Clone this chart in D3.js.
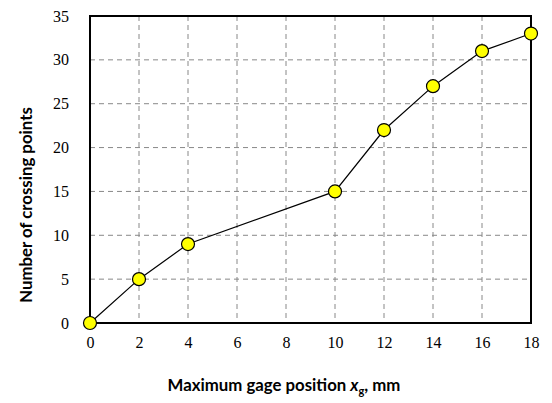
<!DOCTYPE html>
<html>
<head>
<meta charset="utf-8">
<script src="https://cdn.jsdelivr.net/npm/d3@7.9.0/dist/d3.min.js"></script>
<style>
  body { margin: 0; background: #fff; }
  .title { font-family: Lato, "Open Sans", sans-serif; font-weight: bold; font-size: 16.8px; fill: #000; }
</style>
</head>
<body>
<svg width="552" height="403"></svg>
<script>
const gagePos = [0, 2, 4, 10, 12, 14, 16, 18];
const crossings = [0, 5, 9, 15, 22, 27, 31, 33];
const xTicks = [0, 2, 4, 6, 8, 10, 12, 14, 16, 18];
const yTicks = [0, 5, 10, 15, 20, 25, 30, 35];

const svg = d3.select('svg');
const pLeft = 90, pRight = 531, pTop = 16, pBottom = 323;
const serif = "Times New Roman, Liberation Serif, Tinos, DejaVu Serif, Noto Serif, serif";

const x = d3.scaleLinear().domain([0, 18]).range([pLeft, pRight]);
const y = d3.scaleLinear().domain([0, 35]).range([pBottom, pTop]);

// grid
svg.append('g').selectAll('line')
    .data(xTicks.slice(1, -1))
    .join('line')
    .attr('x1', d => x(d)).attr('x2', d => x(d))
    .attr('y1', pTop).attr('y2', pBottom)
    .attr('stroke', '#888').attr('stroke-dasharray', '5,4');

svg.append('g').selectAll('line')
    .data(yTicks.slice(1, -1))
    .join('line')
    .attr('x1', pLeft).attr('x2', pRight)
    .attr('y1', d => y(d)).attr('y2', d => y(d))
    .attr('stroke', '#888').attr('stroke-dasharray', '5,4');

// axes
const xAxis = svg.append('g')
    .attr('transform', `translate(0,${pBottom})`)
    .call(d3.axisBottom(x).tickValues(xTicks).tickSize(0).tickPadding(14));
xAxis.select('.domain').remove();

const yAxis = svg.append('g')
    .attr('transform', `translate(${pLeft},0)`)
    .call(d3.axisLeft(y).tickValues(yTicks).tickSize(0).tickPadding(21));
yAxis.select('.domain').remove();

svg.selectAll('.tick text').each(function () {
    this.style.fontFamily = serif;
    this.style.fontSize = '16px';
    this.style.fill = '#000';
});

// frame
svg.append('rect')
    .attr('x', pLeft).attr('y', pTop)
    .attr('width', pRight - pLeft).attr('height', pBottom - pTop)
    .attr('fill', 'none').attr('stroke', '#000').attr('stroke-width', 2);

// line + points
const pts = gagePos.map((g, i) => [g, crossings[i]]);
svg.append('path')
    .datum(pts)
    .attr('d', d3.line().x(d => x(d[0])).y(d => y(d[1])))
    .attr('fill', 'none').attr('stroke', '#000').attr('stroke-width', 1.2);

svg.append('g').selectAll('circle')
    .data(pts)
    .join('circle')
    .attr('cx', d => x(d[0])).attr('cy', d => y(d[1]))
    .attr('r', 6.5)
    .attr('fill', '#ffff00').attr('stroke', '#000').attr('stroke-width', 1.2);

// titles
const xt = svg.append('text').attr('class', 'title')
    .attr('x', 284).attr('y', 391).attr('text-anchor', 'middle');
xt.append('tspan').text('Maximum gage position ');
xt.append('tspan').attr('font-style', 'italic').text('x');
xt.append('tspan').attr('font-size', '11px').attr('dy', 4).text('g');
xt.append('tspan').attr('dy', -4).text(', mm');

svg.append('text').attr('class', 'title')
    .attr('transform', `translate(32,205) rotate(-90)`)
    .attr('text-anchor', 'middle')
    .text('Number of crossing points');
</script>
</body>
</html>
